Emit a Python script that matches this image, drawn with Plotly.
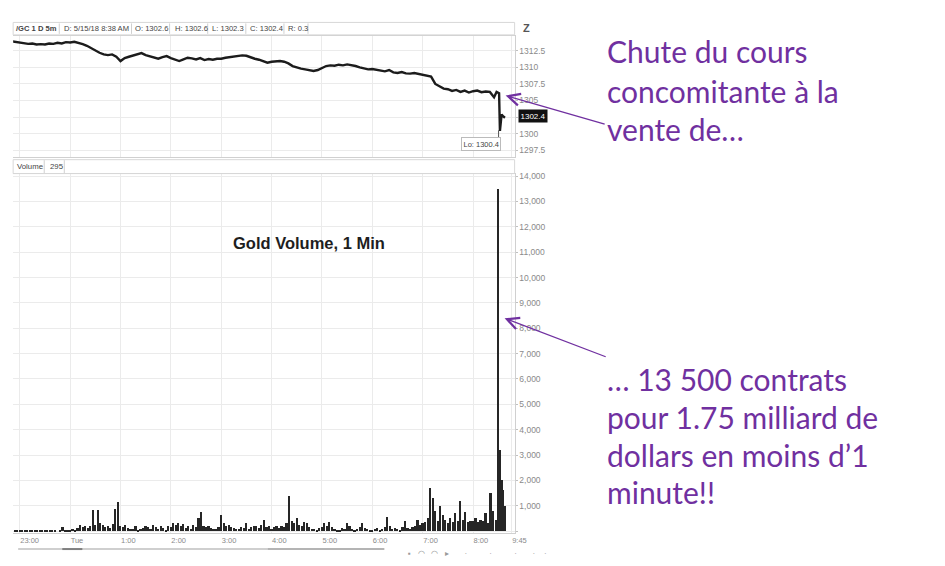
import plotly.graph_objects as go

# page body has an 8px margin; the page (960 css px wide) is shown 945 px wide
OX, OY = 8, 8
SX = 960 / 945
FW, FH = 944, 550


def px(x):
    return (x * SX - OX) / FW


def py(y):
    return 1 - (y - OY) / FH


# ---------------- data ----------------
# minutes after 23:00 (Mon) ; 5-minute closes of gold futures
price_times = list(range(-10, 570, 5)) + [568, 571, 572, 574, 576, 578]
prices = [
    1313.95, 1313.85, 1313.7, 1313.6, 1313.55, 1313.6, 1313.45, 1313.5, 1313.45, 1313.6,
    1313.55, 1313.7, 1313.6, 1313.8, 1313.75, 1313.85, 1313.7, 1313.5, 1313.25, 1312.9,
    1312.5, 1312.2, 1311.95, 1311.85, 1311.95, 1311.6, 1310.95, 1311.4, 1311.6, 1311.75,
    1312.0, 1312.15, 1311.85, 1311.7, 1311.5, 1311.3, 1311.55, 1311.7, 1311.4, 1311.2,
    1310.95, 1311.2, 1311.45, 1311.35, 1311.2, 1311.4, 1311.1, 1311.25, 1311.15, 1311.3,
    1311.3, 1311.45, 1311.55, 1311.6, 1311.7, 1311.8, 1311.75, 1311.5, 1311.3, 1311.15,
    1310.9, 1310.7, 1310.85, 1310.9, 1310.95, 1310.85, 1310.6, 1310.2, 1309.95, 1309.8,
    1309.7, 1309.55, 1309.45, 1309.6, 1309.9, 1310.2, 1310.3, 1310.25, 1310.4, 1310.3,
    1310.45, 1310.35, 1310.2, 1310.0, 1309.85, 1309.7, 1309.75, 1309.6, 1309.55, 1309.4,
    1309.6, 1309.25, 1309.15, 1309.3, 1309.1, 1309.05, 1309.15, 1309.0, 1308.9, 1308.8,
    1308.6, 1307.5, 1307.2, 1306.8, 1306.7, 1306.45, 1306.6, 1306.3, 1306.5, 1306.2,
    1306.4, 1306.5, 1306.25, 1306.35, 1306.3, 1305.5,
    1306.3, 1306.1, 1300.4, 1302.9, 1302.6, 1302.4,
]

# 1-min volume (sampled), minutes after 23:00
vol_times = list(range(-6, 570, 3)) + [570, 572, 574, 576, 578]
volumes = [
    30, 40,
    40, 20, 50, 30, 40, 20, 30, 50, 30, 40, 20, 40, 20, 5, 5, 0, 10, 150, 60, 20,
    40, 80, 60, 120, 250, 150, 200, 130, 180, 830, 250, 830, 300, 220, 150, 200, 120, 280, 860, 1140,
    200, 150, 250, 120, 80, 100, 180, 60, 90, 140, 200, 160, 100, 220, 150, 90, 180, 120, 60, 200,
    150, 300, 250, 320, 200, 280, 120, 180, 100, 220, 160, 500, 760, 200, 150, 180, 120, 100, 80, 150,
    620, 300, 200, 250, 150, 120, 100, 80, 150, 120, 300, 100, 150, 200, 180, 120, 250, 450, 150, 200,
    100, 150, 180, 120, 200, 150, 300, 1400, 400, 300, 500, 250, 200, 350, 300, 150, 100, 80, 60, 120,
    150, 300, 200, 350, 150, 80, 60, 50, 120, 80, 300, 200, 100, 60, 80, 150, 300, 120, 80, 60,
    50, 80, 120, 60, 100, 150, 550, 200, 100, 120, 80, 60, 150, 400, 120, 100, 150, 200, 450, 250,
    300, 350, 500, 1700, 1300, 800, 400, 1000, 650, 450, 300, 500, 350, 700, 400, 1200, 450, 750, 350, 400,
    400, 500, 350, 450, 400, 700, 300, 1500, 800, 450,
    13500, 3200, 2000, 1600, 1000,
]

hour_ticks = [0, 60, 120, 180, 240, 300, 360, 420, 480, 540, 586]
hour_labels = ["23:00", "Tue", "1:00", "2:00", "3:00", "4:00", "5:00",
               "6:00", "7:00", "8:00", "9:45"]
price_ticks = [1297.5, 1300, 1302.5, 1305, 1307.5, 1310, 1312.5]
price_labels = ["1297.5", "1300", "1302.5", "1305", "1307.5", "1310", "1312.5"]
vol_ticks = list(range(0, 14001, 1000))
vol_labels = [""] + [f"{v:,}" for v in vol_ticks[1:]]

header_items = ["/GC 1 D 5m", "D: 5/15/18 8:38 AM", "O: 1302.6", "H: 1302.6",
                "L: 1302.3", "C: 1302.4", "R: 0.3"]
header_x = [14, 62, 133, 172, 209, 247, 285]
header_seps = [59, 131, 169, 207, 245, 283, 307]

text_top = ["Chute du cours", "concomitante à la", "vente de…"]
text_top_y = [48, 88, 127]
text_bot = ["… 13 500 contrats", "pour 1.75 milliard de", "dollars en moins d’1", "minute!!"]
text_bot_y = [378, 416, 454, 492]

PURPLE = "#7030A0"
GRID = "#ebebeb"
TICKC = "#8a8a8a"
X_RANGE = [-7.9, 589.5]

fig = go.Figure()
fig.add_trace(go.Scatter(x=price_times, y=prices, mode="lines",
                         line=dict(color="#1c1c1c", width=2.4),
                         xaxis="x", yaxis="y", hoverinfo="skip"))
fig.add_trace(go.Bar(x=vol_times, y=volumes, width=2.6,
                     marker=dict(color="#262626", line=dict(width=0)),
                     xaxis="x2", yaxis="y2", hoverinfo="skip"))

xdom = [px(13), px(513)]
common_x = dict(domain=xdom, range=X_RANGE, tickvals=hour_ticks, showgrid=True,
                gridcolor=GRID, zeroline=False, showline=True, linecolor="#d0d0d0",
                mirror=True, ticks="")
yfont = dict(size=8.5, color=TICKC)
fig.update_layout(
    width=FW, height=FH, margin=dict(l=0, r=0, t=0, b=0),
    paper_bgcolor="white", plot_bgcolor="white", showlegend=False,
    font=dict(family="Liberation Sans", color="#333"),
    bargap=0,
    xaxis=dict(anchor="y", showticklabels=False, **common_x),
    yaxis=dict(domain=[py(155), py(33)], range=[1296.45, 1314.75], side="right",
               tickvals=price_ticks, ticktext=price_labels, showgrid=True,
               gridcolor=GRID, zeroline=False, ticks="outside", ticklen=2,
               tickcolor="#c0c0c0", tickfont=yfont,
               showline=True, linecolor="#d0d0d0", anchor="x"),
    xaxis2=dict(anchor="y2", ticktext=hour_labels, ticklabelposition="outside right",
                tickfont=dict(size=7.5, color=TICKC), **common_x),
    yaxis2=dict(domain=[py(533), py(172)], range=[-78, 14078], side="right",
                tickvals=vol_ticks, ticktext=vol_labels, showgrid=True,
                gridcolor=GRID, zeroline=False, ticks="outside", ticklen=2,
                tickcolor="#c0c0c0", tickfont=yfont,
                showline=True, linecolor="#d0d0d0", anchor="x2"),
)

shapes = []
shapes.append(dict(type="rect", xref="paper", yref="paper", x0=px(13), x1=px(513),
                   y0=py(32), y1=py(19.5), line=dict(color="#d8d8d8", width=1)))
for s in header_seps:
    shapes.append(dict(type="line", xref="paper", yref="paper", x0=px(s), x1=px(s),
                       y0=py(31), y1=py(20.5), line=dict(color="#d0d0d0", width=1)))
shapes.append(dict(type="rect", xref="paper", yref="paper", x0=px(13), x1=px(513),
                   y0=py(171.5), y1=py(157.5), line=dict(color="#d8d8d8", width=1)))
for s in [44, 64]:
    shapes.append(dict(type="line", xref="paper", yref="paper", x0=px(s), x1=px(s),
                       y0=py(171), y1=py(158), line=dict(color="#d0d0d0", width=1)))
shapes.append(dict(type="line", xref="paper", yref="paper", x0=px(497), x1=px(497),
                   y0=py(128), y1=py(137), line=dict(color="#555", width=1)))
shapes.append(dict(type="line", xref="paper", yref="paper", x0=px(18), x1=px(383),
                   y0=py(549), y1=py(549), line=dict(color="#cfcfcf", width=2)))
shapes.append(dict(type="line", xref="paper", yref="paper", x0=px(267), x1=px(383),
                   y0=py(549), y1=py(549), line=dict(color="#b4b4b4", width=2)))
shapes.append(dict(type="line", xref="paper", yref="paper", x0=px(62), x1=px(82),
                   y0=py(549), y1=py(549), line=dict(color="#808080", width=2)))
fig.update_layout(shapes=shapes)

ann = []


def txt(t, x, y, size, color, xanchor="left", family=None, **kw):
    f = dict(size=size, color=color)
    if family:
        f["family"] = family
    d = dict(text=t, x=px(x), y=py(y), xref="paper", yref="paper",
             xanchor=xanchor, yanchor="middle", showarrow=False, font=f)
    d.update(kw)
    ann.append(d)


for t, x in zip(header_items, header_x):
    txt(("<b>" + t + "</b>") if x == 14 else t, x, 25.5, 7.6, "#444")
txt("Volume", 14.5, 164.5, 7.8, "#444")
txt("295", 48, 164.5, 7.8, "#444")
txt("<b>Z</b>", 525, 25, 11, "#555", xanchor="center")
ann.append(dict(text="1302.4", x=px(516), y=1302.6, xref="paper", yref="y",
                xanchor="left", yanchor="middle", showarrow=False, bgcolor="#111",
                borderpad=1.5, font=dict(size=8, color="white")))
txt("Lo: 1300.4", 479, 142, 7.5, "#444", xanchor="center", bgcolor="white",
    bordercolor="#bbb", borderwidth=1, borderpad=1.5)
txt("<b>Gold Volume, 1 Min</b>", 308, 241, 16.5, "#1e1e1e", xanchor="center")
txt("▪   ◠   ◠   ▸       ·          ·          ·       ·    ·", 405, 553, 8, "#9a9a9a")
for t, y in zip(text_top, text_top_y):
    txt(t, 603, y, 30, PURPLE, family="Lato")
for t, y in zip(text_bot, text_bot_y):
    txt(t, 603, y, 30, PURPLE, family="Lato")
for hx, hy, tx, ty in [(504, 93, 603, 122), (503, 317, 604, 356)]:
    ann.append(dict(text="", x=px(hx), y=py(hy), xref="paper", yref="paper",
                    ax=(tx - hx) * SX, ay=ty - hy, showarrow=True, arrowhead=5,
                    arrowsize=1.8, arrowwidth=1.3, arrowcolor=PURPLE))
fig.update_layout(annotations=ann)

fig.write_html("out.html")
